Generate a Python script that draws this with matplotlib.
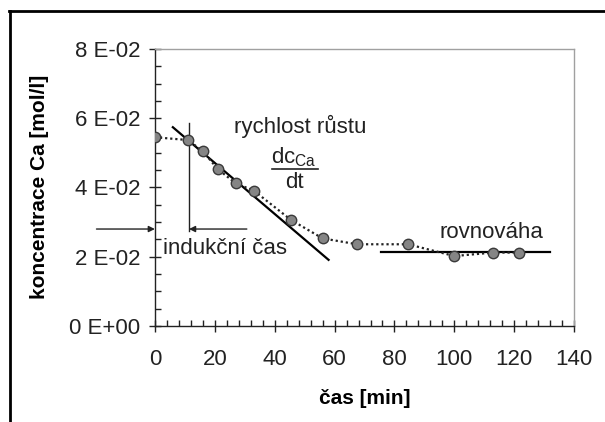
import matplotlib
matplotlib.use("Agg")
import matplotlib.pyplot as plt
from matplotlib.ticker import MultipleLocator, FuncFormatter
from matplotlib.lines import Line2D

# naměřená data
cas_min = [0, 11, 16, 21, 27, 33, 45.5, 56, 67.5, 84.5, 100, 113, 121.5]
konc_ca = [0.0545, 0.0537, 0.0505, 0.0453, 0.0412, 0.0391, 0.0306, 0.0253,
           0.0236, 0.0236, 0.0202, 0.0212, 0.0212]

# tečna (rychlost růstu) a rovnováha
tecna_x = [6, 58]
tecna_y = [0.0574, 0.0191]
rovn_x = [75.5, 132]
rovn_y = [0.0214, 0.0214]

# indukční čas
indukce_x = 11.4
indukce_y = 0.028
indukce_svisla = [0.0275, 0.0586]
sipka_levy = -19.5
sipka_pravy = 30.7

plt.rcParams["font.family"] = ["Liberation Sans", "DejaVu Sans"]

fig = plt.figure(figsize=(6.05, 4.22), dpi=100)
ax = fig.add_axes([0.256, 0.2275, 0.693, 0.6565])

ax.plot(cas_min, konc_ca, linestyle=(0, (1, 1.3)), color="#222222", lw=1.6,
        marker="o", markersize=7.5, markerfacecolor="#858585",
        markeredgecolor="#3a3a3a", markeredgewidth=1.0, zorder=3)
ax.plot(tecna_x, tecna_y, color="black", lw=1.6, zorder=2)
ax.plot(rovn_x, rovn_y, color="black", lw=1.6, zorder=2)

# indukční čas - svislá čára a šipky
ax.plot([indukce_x, indukce_x], indukce_svisla, color="#222222", lw=1.0)
ax.annotate("", xy=(0, indukce_y), xytext=(sipka_levy, indukce_y),
            arrowprops=dict(arrowstyle="-|>", color="#222222", lw=1.0,
                            mutation_scale=9, shrinkA=0, shrinkB=0),
            annotation_clip=False)
ax.annotate("", xy=(indukce_x, indukce_y), xytext=(sipka_pravy, indukce_y),
            arrowprops=dict(arrowstyle="-|>", color="#222222", lw=1.0,
                            mutation_scale=9, shrinkA=0, shrinkB=0))

ax.text(23.5, 0.0225, "indukční čas", fontsize=16, ha="center", va="center",
        color="#222222")
ax.text(48.5, 0.0575, "rychlost růstu", fontsize=16, ha="center", va="center",
        color="#222222")
ax.text(46.5, 0.0487, r"dc$_\mathregular{Ca}$", fontsize=16, ha="center",
        va="center", color="#222222")
ax.plot([39, 54.5], [0.0453, 0.0453], color="#222222", lw=1.2)
ax.text(46.5, 0.0413, "dt", fontsize=16, ha="center", va="center",
        color="#222222")
ax.text(112.3, 0.0271, "rovnováha", fontsize=16, ha="center", va="center",
        color="#222222")

ax.set_xlim(0, 140)
ax.set_ylim(0, 0.08)
ax.xaxis.set_major_locator(MultipleLocator(20))
ax.xaxis.set_minor_locator(MultipleLocator(4))
ax.yaxis.set_major_locator(MultipleLocator(0.02))
ax.yaxis.set_minor_locator(MultipleLocator(0.005))


def _fmt_y(y, _pos):
    if abs(y) < 1e-12:
        return "0 E+00"
    return f"{round(y * 100):d} E-02"


ax.yaxis.set_major_formatter(FuncFormatter(_fmt_y))

ax.tick_params(which="major", direction="inout", length=9, width=1.0,
               colors="#222222", labelsize=16)
ax.tick_params(which="minor", direction="in", length=4, width=1.0,
               colors="#222222")
ax.tick_params(axis="x", which="major", pad=12)
ax.tick_params(axis="y", which="major", pad=6)

for s in ("left", "bottom"):
    ax.spines[s].set_color("#222222")
    ax.spines[s].set_linewidth(1.0)
for s in ("top", "right"):
    ax.spines[s].set_color("#a0a0a0")
    ax.spines[s].set_linewidth(1.0)

ax.set_xlabel("čas [min]", fontsize=15, fontweight="bold", labelpad=14)
fig.text(40 / 605, 1 - 187 / 422, "koncentrace Ca [mol/l]", fontsize=15,
         fontweight="bold", rotation=90, ha="center", va="center")

# rámeček kolem obrázku (vlevo a nahoře)
fig.add_artist(Line2D([9.5 / 605, 9.5 / 605], [0, 1 - 11.3 / 422],
                      color="black", lw=2.0, transform=fig.transFigure))
fig.add_artist(Line2D([8.5 / 605, 1], [1 - 11.3 / 422, 1 - 11.3 / 422],
                      color="black", lw=2.0, transform=fig.transFigure))

fig.savefig("out.png", dpi=100, facecolor="white")
